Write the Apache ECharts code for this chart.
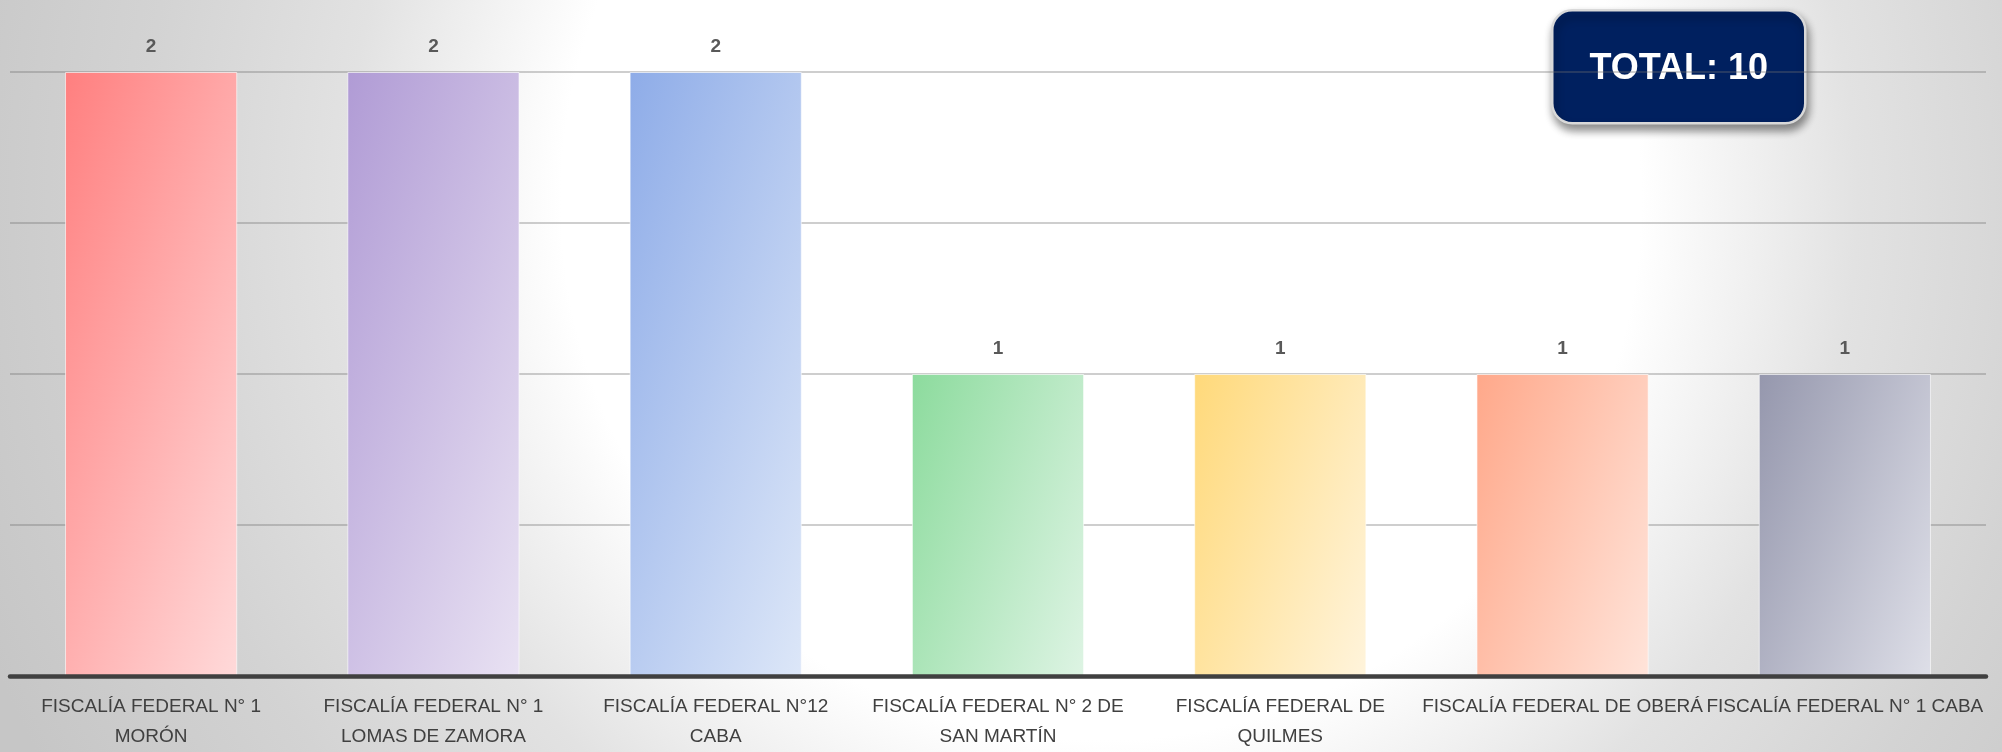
<!DOCTYPE html>
<html>
<head>
<meta charset="utf-8">
<script src="https://cdn.jsdelivr.net/npm/echarts@6/dist/echarts.min.js"></script>
<style>
html,body{margin:0;padding:0;background:#e6e6e6;}
#chart{width:2002px;height:752px;}
</style>
</head>
<body>
<div id="chart"></div>
<script>
const categories = [
  'FISCALÍA FEDERAL N° 1 MORÓN',
  'FISCALÍA FEDERAL N° 1 LOMAS DE ZAMORA',
  'FISCALÍA FEDERAL N°12 CABA',
  'FISCALÍA FEDERAL N° 2 DE SAN MARTÍN',
  'FISCALÍA FEDERAL DE QUILMES',
  'FISCALÍA FEDERAL DE OBERÁ',
  'FISCALÍA FEDERAL N° 1 CABA'
];
const tickLabels = [
  'FISCALÍA FEDERAL N° 1\nMORÓN',
  'FISCALÍA FEDERAL N° 1\nLOMAS DE ZAMORA',
  'FISCALÍA FEDERAL N°12\nCABA',
  'FISCALÍA FEDERAL N° 2 DE\nSAN MARTÍN',
  'FISCALÍA FEDERAL DE\nQUILMES',
  'FISCALÍA FEDERAL DE OBERÁ',
  'FISCALÍA FEDERAL N° 1 CABA'
];
const values = [2, 2, 2, 1, 1, 1, 1];
const colorsStart = ['#ff7f7f', '#b09bd5', '#8eace8', '#8cdb9d', '#ffd97a', '#ffa88a', '#9597ad'];
const colorsEnd   = ['#ffdada', '#e9e2f3', '#dde7f8', '#def4e4', '#fff4dc', '#ffe4da', '#dedfe8'];
const totalText = 'TOTAL: 10';

// gradient direction (local bbox fractions) roughly matching a diagonal fill
function gradFor(v, i) {
  const w = 172, h = 303 * v;
  const k = 0.34 * w / h;
  const a = (w * w + k * h * h) / (w * w + k * k * h * h);
  const b = k * a;
  return new echarts.graphic.LinearGradient(0, 0, a, b, [
    {offset: 0, color: colorsStart[i]},
    {offset: 1, color: colorsEnd[i]}
  ]);
}

const chart = echarts.init(document.getElementById('chart'), null, {renderer: 'canvas'});
const fontFam = '"Liberation Sans", Arial, sans-serif';

const option = {
  backgroundColor: new echarts.graphic.RadialGradient(0.55, 0.266, 1.596, [
    {offset: 0, color: '#ffffff'},
    {offset: 0.45, color: '#ffffff'},
    {offset: 0.63, color: '#e2e2e2'},
    {offset: 0.8, color: '#d3d3d3'},
    {offset: 1, color: '#c6c6c6'}
  ]),
  animation: false,
  grid: {left: 10, right: 16, top: 72, bottom: 72, containLabel: false},
  xAxis: {
    type: 'category',
    data: categories,
    axisLine: {show: true, lineStyle: {color: '#404040', width: 4.5}},
    axisTick: {show: false},
    axisLabel: {
      interval: 0,
      formatter: function (val, idx) { return tickLabels[idx]; },
      color: '#404040',
      fontFamily: fontFam,
      fontSize: 19,
      lineHeight: 30,
      margin: 16
    },
    z: 5
  },
  yAxis: {
    type: 'value',
    min: 0,
    max: 2,
    interval: 0.5,
    axisLabel: {show: false},
    axisLine: {show: false},
    axisTick: {show: false},
    splitLine: {show: true, lineStyle: {color: 'rgba(110,110,110,0.45)', width: 1.5}}
  },
  series: [{
    type: 'bar',
    barWidth: '61%',
    data: values.map(function (v, i) {
      return {
        value: v,
        itemStyle: {
          color: gradFor(v, i),
          borderColor: 'rgba(255,255,255,0.6)',
          borderWidth: 1
        }
      };
    }),
    label: {
      show: true,
      position: 'top',
      distance: 16,
      formatter: '{c}',
      color: '#595959',
      fontFamily: fontFam,
      fontWeight: 'bold',
      fontSize: 19
    }
  }],
  graphic: [{
    type: 'group',
    left: 1551,
    top: 9,
    z: 100,
    children: [{
      type: 'rect',
      shape: {x: 0, y: 0, width: 253, height: 113, r: 20},
      style: {
        fill: '#00205f',
        stroke: '#d9d9d9',
        lineWidth: 2.5,
        shadowBlur: 8,
        shadowOffsetX: 2,
        shadowOffsetY: 6,
        shadowColor: 'rgba(0,0,0,0.45)'
      }
    }, {
      type: 'text',
      x: 126.5,
      y: 59,
      style: {
        text: totalText,
        fill: '#ffffff',
        font: 'bold 36px "Liberation Sans", Arial, sans-serif',
        textAlign: 'center',
        textVerticalAlign: 'middle'
      }
    }]
  }]
};
chart.setOption(option);
</script>
</body>
</html>
